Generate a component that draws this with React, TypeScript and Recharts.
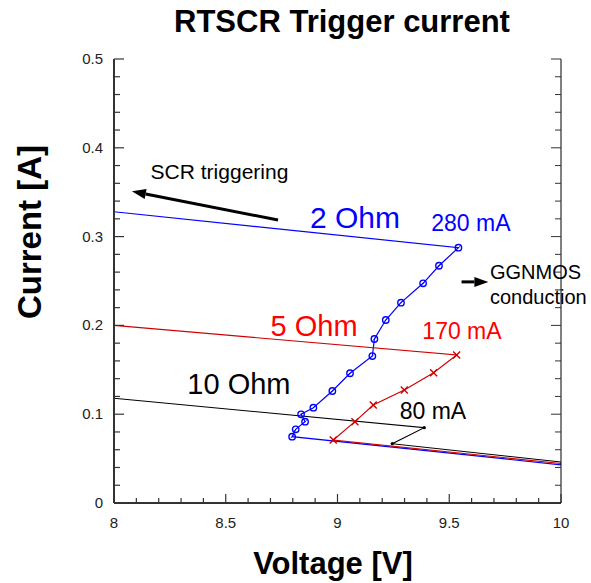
import React from 'react';
import { LineChart, Line, XAxis, YAxis, ReferenceDot, ReferenceLine } from 'recharts';

// axis ticks
const xTicks = [8, 8.1, 8.2, 8.3, 8.4, 8.5, 8.6, 8.7, 8.8, 8.9, 9, 9.1, 9.2, 9.3, 9.4, 9.5, 9.6, 9.7, 9.8, 9.9, 10];
const yTicks = [0, 0.02, 0.04, 0.06, 0.08, 0.1, 0.12, 0.14, 0.16, 0.18, 0.2, 0.22, 0.24, 0.26, 0.28, 0.3, 0.32, 0.34, 0.36, 0.38, 0.4, 0.42, 0.44, 0.46, 0.48, 0.5];
const xLabels = [8, 8.5, 9, 9.5, 10];
const yLabels = [0, 0.1, 0.2, 0.3, 0.4, 0.5];

// 2 Ohm: base line, TLP points, load line back to 8 V
const blueVolts = [10, 8.797, 8.813, 8.855, 8.837, 8.892, 8.977, 9.056, 9.156, 9.165, 9.216, 9.284, 9.383, 9.454, 9.541, 8];
const blueAmps = [0.043, 0.0747, 0.083, 0.0916, 0.0999, 0.1073, 0.1261, 0.1461, 0.1655, 0.1847, 0.2061, 0.2256, 0.2474, 0.2672, 0.2875, 0.328];

// 5 Ohm
const redVolts = [10, 8.981, 9.078, 9.16, 9.299, 9.43, 9.533, 8];
const redAmps = [0.0445, 0.0709, 0.0916, 0.1104, 0.1273, 0.1468, 0.1667, 0.2];

// 10 Ohm
const blackVolts = [10, 9.245, 9.388, 8];
const blackAmps = [0.0462, 0.0668, 0.0848, 0.118];

const FONT = '"Liberation Sans", Arial, sans-serif';
const BLUE = '#0000ff';
const RED = '#ff0000';
const RED_LINE = '#d00000';

const toPoints = (vs: number[], is: number[]) => vs.map((v, k) => ({ v, i: is[k] }));

const isIn = (list: number[], v: number) => list.some((l) => Math.abs(l - v) < 1e-6);

function BottomTick(p: any) {
  const v = p.payload.value;
  const major = isIn(xLabels, v);
  return (
    <g>
      <line x1={p.x} x2={p.x} y1={p.y} y2={p.y - (major ? 9 : 5)} stroke="#333" strokeWidth={1.2} />
      {major && (
        <text x={p.x} y={p.y + 25} textAnchor="middle" fontSize={15} fill="#222" fontFamily={FONT}>
          {v}
        </text>
      )}
    </g>
  );
}

function TopTick(p: any) {
  const major = isIn(xLabels, p.payload.value);
  return <line x1={p.x} x2={p.x} y1={p.y} y2={p.y + (major ? 9 : 5)} stroke="#333" strokeWidth={1} />;
}

function LeftTick(p: any) {
  const v = p.payload.value;
  const major = isIn(yLabels, v);
  return (
    <g>
      <line x1={p.x} x2={p.x + (major ? 10 : 6)} y1={p.y} y2={p.y} stroke="#333" strokeWidth={1.2} />
      {major && (
        <text x={p.x - 11} y={p.y + 5} textAnchor="end" fontSize={15} fill="#222" fontFamily={FONT}>
          {v}
        </text>
      )}
    </g>
  );
}

function RightTick(p: any) {
  const major = isIn(yLabels, p.payload.value);
  return <line x1={p.x} x2={p.x - (major ? 10 : 6)} y1={p.y} y2={p.y} stroke="#333" strokeWidth={1} />;
}

const circleDot = (last: number) => (p: any) => {
  if (p.index === 0 || p.index === last) return <g key={p.index} />;
  return (
    <g key={p.index}>
      <circle cx={p.cx} cy={p.cy} r={3.2} fill="none" stroke={BLUE} strokeWidth={1.4} />
      <line x1={p.cx - 1.5} y1={p.cy + 1.5} x2={p.cx + 1.5} y2={p.cy - 1.5} stroke={BLUE} strokeWidth={0.8} />
    </g>
  );
};

const crossDot = (last: number) => (p: any) => {
  if (p.index === 0 || p.index === last) return <g key={p.index} />;
  const s = 3.5;
  return (
    <g key={p.index} stroke={RED_LINE} strokeWidth={1.4}>
      <line x1={p.cx - s} y1={p.cy - s} x2={p.cx + s} y2={p.cy + s} />
      <line x1={p.cx - s} y1={p.cy + s} x2={p.cx + s} y2={p.cy - s} />
    </g>
  );
};

const smallDot = (last: number) => (p: any) => {
  if (p.index === 0 || p.index === last) return <g key={p.index} />;
  return <circle key={p.index} cx={p.cx} cy={p.cy} r={1.6} fill="#000" />;
};

function Arrow(p: any) {
  const { x1, y1, x2, y2 } = p;
  const a = Math.atan2(y2 - y1, x2 - x1);
  const len = 14;
  const half = 5;
  const bx = x2 - len * Math.cos(a);
  const by = y2 - len * Math.sin(a);
  const nx = -Math.sin(a) * half;
  const ny = Math.cos(a) * half;
  return (
    <g>
      <line x1={x1} y1={y1} x2={bx} y2={by} stroke="#000" strokeWidth={3} />
      <polygon points={`${x2},${y2} ${bx + nx},${by + ny} ${bx - nx},${by - ny}`} fill="#000" />
    </g>
  );
}

const textAt = (label: string, color: string, size: number, anchor = 'middle') => (p: any) => (
  <text x={p.cx} y={p.cy} dy="0.35em" textAnchor={anchor} fontSize={size} fill={color} fontFamily={FONT}>
    {label}
  </text>
);

export default function App() {
  return (
    <div style={{ position: 'absolute', left: 0, top: 0, width: 591, height: 583, background: '#fff' }}>
      <LineChart width={591} height={583} margin={{ top: 59, right: 0, bottom: 0, left: 0 }}>
        <XAxis
          xAxisId="b"
          type="number"
          dataKey="v"
          domain={[8, 10]}
          ticks={xTicks}
          interval={0}
          height={80}
          tickSize={0}
          tickMargin={0}
          allowDataOverflow
          axisLine={{ stroke: '#333', strokeWidth: 2 }}
          tick={(p: any) => <BottomTick {...p} />}
        />
        <XAxis
          xAxisId="t"
          orientation="top"
          type="number"
          dataKey="v"
          domain={[8, 10]}
          ticks={xTicks}
          interval={0}
          height={0}
          tickSize={0}
          tickMargin={0}
          allowDataOverflow
          axisLine={{ stroke: '#000', strokeWidth: 1 }}
          tick={(p: any) => <TopTick {...p} />}
        />
        <YAxis
          yAxisId="l"
          type="number"
          domain={[0, 0.5]}
          ticks={yTicks}
          interval={0}
          width={114}
          tickSize={0}
          tickMargin={0}
          allowDataOverflow
          axisLine={{ stroke: '#333', strokeWidth: 2 }}
          tick={(p: any) => <LeftTick {...p} />}
        />
        <YAxis
          yAxisId="r"
          orientation="right"
          type="number"
          domain={[0, 0.5]}
          ticks={yTicks}
          interval={0}
          width={30}
          tickSize={0}
          tickMargin={0}
          allowDataOverflow
          axisLine={{ stroke: '#000', strokeWidth: 1 }}
          tick={(p: any) => <RightTick {...p} />}
        />

        <Line
          xAxisId="b"
          yAxisId="l"
          data={toPoints(blackVolts, blackAmps)}
          dataKey="i"
          type="linear"
          stroke="#000"
          strokeWidth={1.1}
          dot={smallDot(blackVolts.length - 1)}
          isAnimationActive={false}
        />
        <Line
          xAxisId="b"
          yAxisId="l"
          data={toPoints(blueVolts, blueAmps)}
          dataKey="i"
          type="linear"
          stroke={BLUE}
          strokeWidth={1.2}
          dot={circleDot(blueVolts.length - 1)}
          isAnimationActive={false}
        />
        <Line
          xAxisId="b"
          yAxisId="l"
          data={toPoints(redVolts, redAmps)}
          dataKey="i"
          type="linear"
          stroke={RED_LINE}
          strokeWidth={1.2}
          dot={crossDot(redVolts.length - 1)}
          isAnimationActive={false}
        />

        <ReferenceLine
          xAxisId="b"
          yAxisId="l"
          segment={[{ x: 8.734, y: 0.3187 }, { x: 8.08, y: 0.351 }]}
          shape={(p: any) => <Arrow {...p} />}
        />
        <ReferenceLine
          xAxisId="b"
          yAxisId="l"
          segment={[{ x: 9.555, y: 0.249 }, { x: 9.675, y: 0.249 }]}
          shape={(p: any) => <Arrow {...p} />}
        />

        <ReferenceDot xAxisId="b" yAxisId="l" x={8.472} y={0.3727} r={1} shape={textAt('SCR triggering', '#000', 21)} />
        <ReferenceDot xAxisId="b" yAxisId="l" x={9.078} y={0.322} r={1} shape={textAt('2 Ohm', BLUE, 30)} />
        <ReferenceDot xAxisId="b" yAxisId="l" x={9.597} y={0.315} r={1} shape={textAt('280 mA', BLUE, 23)} />
        <ReferenceDot xAxisId="b" yAxisId="l" x={9.682} y={0.26} r={1} shape={textAt('GGNMOS', '#000', 20, 'start')} />
        <ReferenceDot xAxisId="b" yAxisId="l" x={9.682} y={0.232} r={1} shape={textAt('conduction', '#000', 20, 'start')} />
        <ReferenceDot xAxisId="b" yAxisId="l" x={8.895} y={0.199} r={1} shape={textAt('5 Ohm', RED, 29)} />
        <ReferenceDot xAxisId="b" yAxisId="l" x={9.557} y={0.1937} r={1} shape={textAt('170 mA', RED, 23)} />
        <ReferenceDot xAxisId="b" yAxisId="l" x={8.559} y={0.134} r={1} shape={textAt('10 Ohm', '#000', 29)} />
        <ReferenceDot xAxisId="b" yAxisId="l" x={9.427} y={0.1036} r={1} shape={textAt('80 mA', '#000', 23)} />
      </LineChart>

      <svg width={591} height={583} style={{ position: 'absolute', left: 0, top: 0, pointerEvents: 'none' }}>
        <text x={342} y={32} textAnchor="middle" fontSize={31} fontWeight="bold" fontFamily={FONT}>
          RTSCR Trigger current
        </text>
        <text
          x={29}
          y={232}
          transform="rotate(-90 29 232)"
          textAnchor="middle"
          dy="0.35em"
          fontSize={33}
          fontWeight="bold"
          fontFamily={FONT}
        >
          Current [A]
        </text>
        <text x={333} y={574} textAnchor="middle" fontSize={31} fontWeight="bold" fontFamily={FONT}>
          Voltage [V]
        </text>
      </svg>
    </div>
  );
}
